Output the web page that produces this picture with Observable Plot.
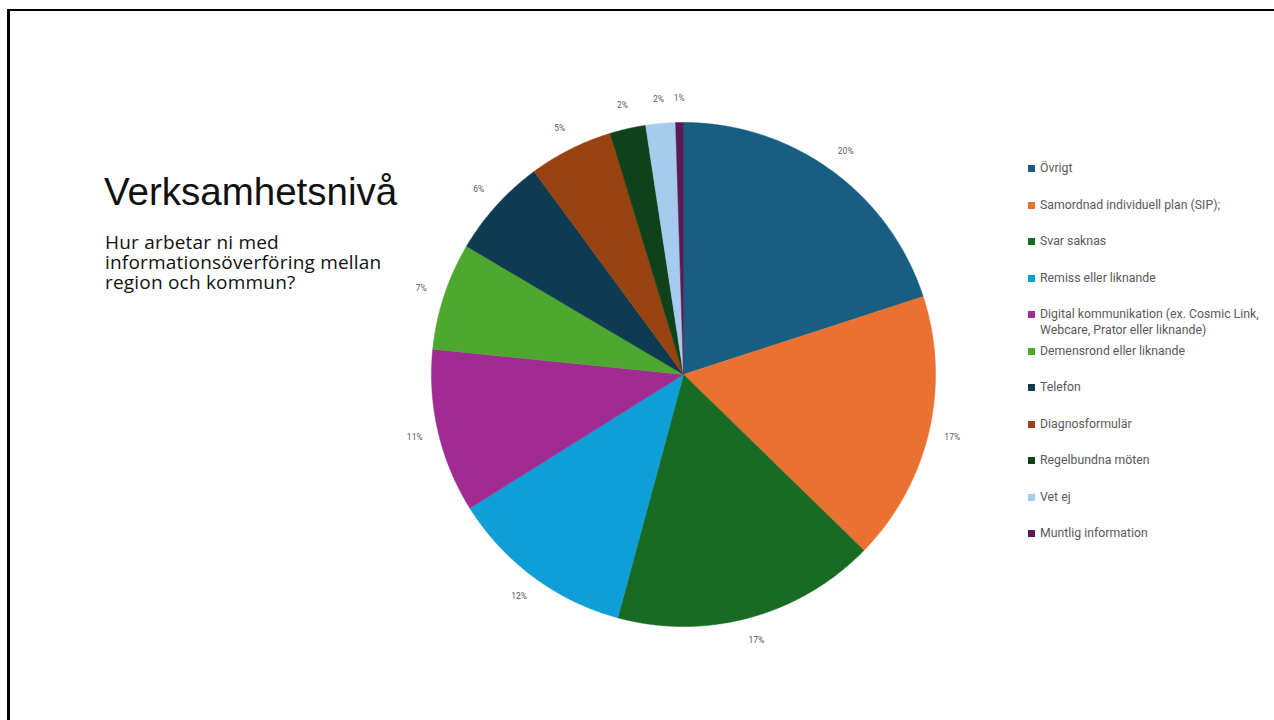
<!DOCTYPE html>
<html>
<head>
<meta charset="utf-8">
<script src="https://cdn.jsdelivr.net/npm/d3@7"></script>
<script src="https://cdn.jsdelivr.net/npm/@observablehq/plot@0.6"></script>
<style>
  html, body { margin: 0; padding: 0; background: #fff; }
  body { width: 1274px; height: 720px; position: relative; overflow: hidden; }
  #frame { position: absolute; left: 7px; top: 9px; right: 0; bottom: 0; border-left: 3px solid #000; border-top: 2px solid #000; }
  #chart { position: absolute; left: 373px; top: 64px; }
  #title { position: absolute; left: 104px; top: 171px; font-family: "Liberation Sans", Arial, sans-serif; font-size: 38.5px; line-height: 42px; color: #111; }
  #subtitle { position: absolute; left: 105px; top: 232px; width: 292px; font-family: "Open Sans", sans-serif; font-size: 19px; letter-spacing: 0.2px; line-height: 20px; color: #111; }
  #legend { position: absolute; left: 1028px; top: 0; font-family: "Roboto", sans-serif; font-size: 12.3px; color: #595959; }
  .item { position: absolute; left: 0; display: flex; align-items: flex-start; width: 244px; }
  .sw { width: 7px; height: 7px; margin-top: 5px; margin-right: 5px; flex: none; }
  .lab { line-height: 16px; width: 232px; }
</style>
</head>
<body>
<div id="frame"></div>
<div id="chart"></div>
<div id="title">Verksamhetsnivå</div>
<div id="subtitle">Hur arbetar ni med informationsöverföring mellan region och kommun?</div>
<div id="legend"></div>
<script>
const categories = [
  "Övrigt",
  "Samordnad individuell plan (SIP);",
  "Svar saknas",
  "Remiss eller liknande",
  "Digital kommunikation (ex. Cosmic Link, Webcare, Prator eller liknande)",
  "Demensrond eller liknande",
  "Telefon",
  "Diagnosformulär",
  "Regelbundna möten",
  "Vet ej",
  "Muntlig information"
];
const shares = [20.0, 17.3, 16.9, 11.9, 10.5, 6.9, 6.4, 5.4, 2.3, 1.9, 0.5];
const colors = ["#175e82", "#e97132", "#196b24", "#0f9ed5", "#a02b93", "#4ea72e", "#0e3a52", "#97420f", "#0f421a", "#a6cbec", "#5c1a55"];

const arcs = d3.pie().sort(null).value(d => d)(shares).map((a, i) => ({...a, name: categories[i]}));

// slice outlines from the pie angles
const pts = [];
for (const a of arcs) {
  pts.push({name: a.name, x: 0, y: 0});
  const n = Math.max(2, Math.ceil((a.endAngle - a.startAngle) / 0.005));
  for (let k = 0; k <= n; k++) {
    const t = a.startAngle + (a.endAngle - a.startAngle) * k / n;
    pts.push({name: a.name, x: Math.sin(t), y: Math.cos(t)});
  }
  pts.push({name: a.name, x: 0, y: 0});
}
const labelR = 1.095;
const labels = arcs.map(a => {
  const m = (a.startAngle + a.endAngle) / 2;
  return {x: Math.sin(m) * labelR, y: Math.cos(m) * labelR, text: Math.round(a.value) + "%"};
});

const plot = Plot.plot({
  width: 620, height: 620,
  margin: 0,
  style: {background: "transparent", overflow: "visible"},
  x: {domain: [-1.23, 1.23], axis: null},
  y: {domain: [-1.23, 1.23], axis: null},
  color: {domain: categories, range: colors},
  marks: [
    Plot.line(pts, {x: "x", y: "y", z: "name", fill: "name", stroke: "name", strokeWidth: 0.5, curve: "linear"}),
    Plot.text(labels, {x: "x", y: "y", text: "text", fontSize: 8.5, fill: "#595959", fontFamily: "Roboto, sans-serif"})
  ]
});
document.getElementById("chart").appendChild(plot);

const legend = document.getElementById("legend");
categories.forEach((c, i) => {
  const it = document.createElement("div");
  it.className = "item";
  it.style.top = (168 - 8 + i * 36.5) + "px";
  const sw = document.createElement("div");
  sw.className = "sw";
  sw.style.background = colors[i];
  const lb = document.createElement("div");
  lb.className = "lab";
  lb.textContent = c;
  it.appendChild(sw); it.appendChild(lb);
  legend.appendChild(it);
});
</script>
</body>
</html>
